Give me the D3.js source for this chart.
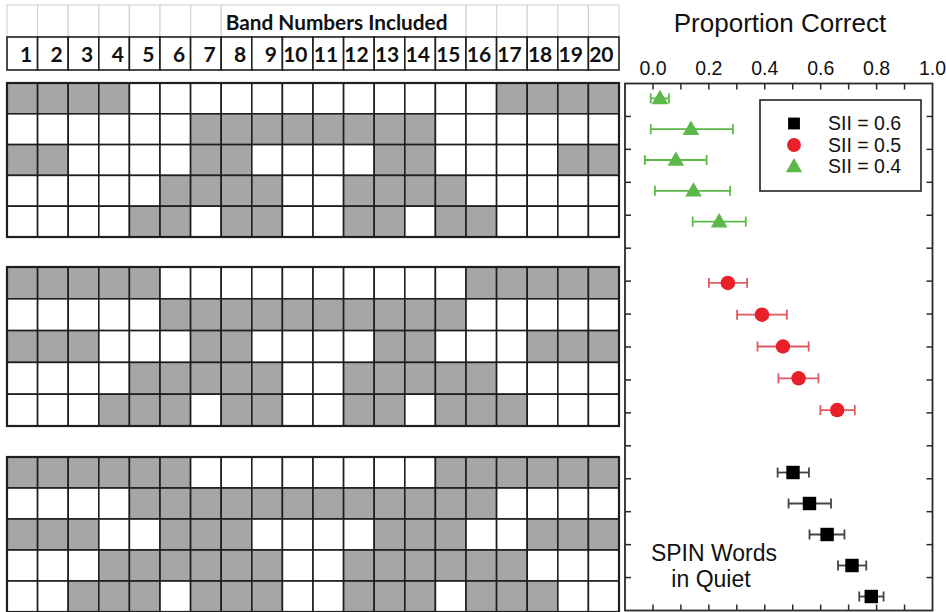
<!DOCTYPE html>
<html>
<head>
<meta charset="utf-8">
<script src="https://cdn.jsdelivr.net/npm/d3@7/dist/d3.min.js"></script>
<style>
  html, body { margin: 0; padding: 0; background: #fff; }
  svg { display: block; }
</style>
</head>
<body>
<svg id="chart" width="946" height="612"></svg>
<script>
// Band numbers shown across the header row
const bandLabels = ["1","2","3","4","5","6","7","8","9","10","11","12","13","14","15","16","17","18","19","20"];

// Bands included in each condition (one list per row), grouped by SII level
const bandsSII04 = [
  [1, 2, 3, 4, 17, 18, 19, 20],
  [7, 8, 9, 10, 11, 12, 13, 14],
  [1, 2, 7, 8, 13, 14, 19, 20],
  [6, 7, 8, 9, 12, 13, 14, 15],
  [5, 6, 8, 9, 12, 13, 15, 16]
];
const bandsSII05 = [
  [1, 2, 3, 4, 5, 16, 17, 18, 19, 20],
  [6, 7, 8, 9, 10, 11, 12, 13, 14, 15],
  [1, 2, 3, 7, 8, 13, 14, 18, 19, 20],
  [5, 6, 7, 8, 9, 12, 13, 14, 15, 16],
  [4, 5, 6, 8, 9, 12, 13, 15, 16, 17]
];
const bandsSII06 = [
  [1, 2, 3, 4, 5, 6, 15, 16, 17, 18, 19, 20],
  [5, 6, 7, 8, 9, 10, 11, 12, 13, 14, 15, 16],
  [1, 2, 3, 6, 7, 8, 13, 14, 15, 18, 19, 20],
  [4, 5, 6, 7, 8, 9, 12, 13, 14, 15, 16, 17],
  [3, 4, 5, 7, 8, 9, 12, 13, 14, 16, 17, 18]
];

// Proportion correct (mean, lower and upper error limits) per row
const meanSII04 = [0.025, 0.136, 0.082, 0.145, 0.237];
const lowSII04  = [-0.008, -0.008, -0.029, 0.007, 0.142];
const highSII04 = [0.057, 0.286, 0.192, 0.276, 0.332];

const meanSII05 = [0.268, 0.390, 0.465, 0.521, 0.659];
const lowSII05  = [0.200, 0.301, 0.374, 0.449, 0.599];
const highSII05 = [0.337, 0.479, 0.557, 0.592, 0.722];

const meanSII06 = [0.501, 0.560, 0.623, 0.712, 0.781];
const lowSII06  = [0.446, 0.485, 0.560, 0.662, 0.738];
const highSII06 = [0.558, 0.637, 0.685, 0.763, 0.825];

// Axis ticks
const xTickLabels = [0.0, 0.2, 0.4, 0.6, 0.8, 1.0];
const xMinorTicks = [0.0, 0.1, 0.2, 0.3, 0.4, 0.5, 0.6, 0.7, 0.8, 0.9];
const yTicks = [1, 2, 3, 4, 5, 6, 7, 8, 9, 10, 11, 12, 13, 14, 15];

const legendLabels = ["SII = 0.6", "SII = 0.5", "SII = 0.4"];

// ---- layout -------------------------------------------------------------
const svg = d3.select("#chart");
const gridLeft = 7, gridRight = 619;
const groupTops = [83, 267, 457];
const groupRowH = [30.8, 31.8, 31.0];

const GRAY = "#a6a6a6";
const LINE = "#1e1e1e";
const SANS = "'Liberation Sans', Arial, Helvetica, sans-serif";
const colors = { sq: "#000000", ci: "#e8202a", tr: "#5cb848" };
const errColors = { sq: "#444444", ci: "#e05a5f", tr: "#5cb848" };

const xBand = d3.scaleBand().domain(bandLabels).range([gridLeft, gridRight]).paddingInner(0).paddingOuter(0);

// ---- header ------------------------------------------------------------
const hdr = svg.append("g");
// top row: light cells 1-7, merged 8-15 title cell, cells 16-20
const topCells = [];
bandLabels.forEach((b, i) => { if (i < 7 || i >= 15) topCells.push({ x0: xBand(b), x1: xBand(b) + xBand.bandwidth() }); });
topCells.push({ x0: xBand("8"), x1: xBand("15") + xBand.bandwidth() });
hdr.selectAll("rect.top").data(topCells).join("rect")
  .attr("x", d => d.x0).attr("y", 5)
  .attr("width", d => d.x1 - d.x0).attr("height", 32)
  .attr("fill", "#fff").attr("stroke", "#d4d4d4").attr("stroke-width", 1.2);

hdr.append("text")
  .attr("x", (xBand("8") + xBand("15") + xBand.bandwidth()) / 2 - 7)
  .attr("y", 30)
  .attr("text-anchor", "middle")
  .attr("font-family", "Lato, 'Open Sans', sans-serif")
  .attr("font-weight", "bold")
  .attr("font-size", 20.8)
  .attr("fill", "#111")
  .text("Band Numbers Included");

// number row
hdr.selectAll("rect.num").data(bandLabels).join("rect")
  .attr("x", d => xBand(d)).attr("y", 37)
  .attr("width", xBand.bandwidth()).attr("height", 33)
  .attr("fill", "#fff").attr("stroke", LINE).attr("stroke-width", 1.6);
hdr.selectAll("text.num").data(bandLabels).join("text")
  .attr("x", d => xBand(d) + xBand.bandwidth() - 5.5)
  .attr("y", 62)
  .attr("text-anchor", "end")
  .attr("font-family", "Lato, 'Open Sans', sans-serif")
  .attr("font-weight", "bold")
  .attr("font-size", 21)
  .attr("fill", "#111")
  .text(d => d);

// ---- band grids -------------------------------------------------------
const groupBands = [bandsSII04, bandsSII05, bandsSII06];
const rowCenters = [];
groupBands.forEach((rows, gi) => {
  const top = groupTops[gi], h = groupRowH[gi];
  const yRow = d3.scaleBand().domain(d3.range(rows.length)).range([top, top + h * rows.length]);
  const g = svg.append("g");
  const cells = [];
  rows.forEach((bands, ri) => {
    bandLabels.forEach(b => cells.push({ row: ri, band: b, on: bands.includes(+b) }));
  });
  g.selectAll("rect").data(cells).join("rect")
    .attr("x", d => xBand(d.band)).attr("y", d => yRow(d.row))
    .attr("width", xBand.bandwidth()).attr("height", yRow.bandwidth())
    .attr("fill", d => d.on ? GRAY : "#fff")
    .attr("stroke", LINE).attr("stroke-width", 1.6);
  g.append("rect")
    .attr("x", gridLeft).attr("y", top)
    .attr("width", gridRight - gridLeft).attr("height", h * rows.length)
    .attr("fill", "none").attr("stroke", LINE).attr("stroke-width", 2.2);
  rowCenters.push(rows.map((_, ri) => yRow(ri) + yRow.bandwidth() / 2));
});

// ---- proportion-correct panel ------------------------------------------
const pL = 625, pR = 932.5, pT = 83.5, pB = 610.5;
const x = d3.scaleLinear().domain([-0.1, 1.0]).range([pL, pR]);
const yT = d3.scaleLinear().domain([0, 16]).range([pT, pB]);
const panel = svg.append("g");

panel.append("rect")
  .attr("x", pL).attr("y", pT).attr("width", pR - pL).attr("height", pB - pT)
  .attr("fill", "#fff").attr("stroke", "#2a2a2a").attr("stroke-width", 1.8);

// inward ticks on all four sides
const tickLen = 6;
panel.append("g").selectAll("line").data(xMinorTicks).join("line")
  .attr("x1", d => x(d)).attr("x2", d => x(d)).attr("y1", pT).attr("y2", pT + tickLen)
  .attr("stroke", "#2a2a2a").attr("stroke-width", 1.5);
panel.append("g").selectAll("line").data(xMinorTicks).join("line")
  .attr("x1", d => x(d)).attr("x2", d => x(d)).attr("y1", pB).attr("y2", pB - tickLen)
  .attr("stroke", "#2a2a2a").attr("stroke-width", 1.5);
panel.append("g").selectAll("line").data(yTicks).join("line")
  .attr("x1", pL).attr("x2", pL + tickLen).attr("y1", d => yT(d)).attr("y2", d => yT(d))
  .attr("stroke", "#2a2a2a").attr("stroke-width", 1.5);
panel.append("g").selectAll("line").data(yTicks).join("line")
  .attr("x1", pR).attr("x2", pR - tickLen).attr("y1", d => yT(d)).attr("y2", d => yT(d))
  .attr("stroke", "#2a2a2a").attr("stroke-width", 1.5);

// top tick labels
panel.append("g").selectAll("text").data(xTickLabels).join("text")
  .attr("x", d => x(d)).attr("y", 75)
  .attr("text-anchor", "middle")
  .attr("font-family", SANS)
  .attr("font-size", 19.5)
  .attr("fill", "#111")
  .text(d => d3.format(".1f")(d));

svg.append("text")
  .attr("x", 780).attr("y", 32)
  .attr("text-anchor", "middle")
  .attr("font-family", SANS)
  .attr("font-size", 26)
  .attr("fill", "#111")
  .text("Proportion Correct");

// error bars and markers
const series = [
  { key: "tr", mean: meanSII04, lo: lowSII04, hi: highSII04, ys: rowCenters[0] },
  { key: "ci", mean: meanSII05, lo: lowSII05, hi: highSII05, ys: rowCenters[1] },
  { key: "sq", mean: meanSII06, lo: lowSII06, hi: highSII06, ys: rowCenters[2] }
];
const capH = 5;
series.forEach(s => {
  const pts = s.mean.map((m, i) => ({ m, lo: s.lo[i], hi: s.hi[i], y: s.ys[i] }));
  const g = panel.append("g");
  const ec = errColors[s.key];
  g.selectAll("line.bar").data(pts).join("line")
    .attr("x1", d => x(d.lo)).attr("x2", d => x(d.hi)).attr("y1", d => d.y).attr("y2", d => d.y)
    .attr("stroke", ec).attr("stroke-width", 1.8);
  g.selectAll("line.capL").data(pts).join("line")
    .attr("x1", d => x(d.lo)).attr("x2", d => x(d.lo)).attr("y1", d => d.y - capH).attr("y2", d => d.y + capH)
    .attr("stroke", ec).attr("stroke-width", 1.8);
  g.selectAll("line.capR").data(pts).join("line")
    .attr("x1", d => x(d.hi)).attr("x2", d => x(d.hi)).attr("y1", d => d.y - capH).attr("y2", d => d.y + capH)
    .attr("stroke", ec).attr("stroke-width", 1.8);
  const sym = s.key === "sq" ? d3.symbolSquare : s.key === "ci" ? d3.symbolCircle : d3.symbolTriangle;
  const size = s.key === "sq" ? 180 : s.key === "ci" ? 165 : 120;
  g.selectAll("path").data(pts).join("path")
    .attr("transform", d => `translate(${x(d.m)},${d.y + (s.key === "tr" ? 1 : 0)})`)
    .attr("d", d3.symbol().type(sym).size(size))
    .attr("fill", colors[s.key]);
});

// legend
const leg = panel.append("g");
leg.append("rect")
  .attr("x", 760).attr("y", 100).attr("width", 161).attr("height", 91)
  .attr("fill", "#fff").attr("stroke", "#222").attr("stroke-width", 1.6);
const legKeys = ["sq", "ci", "tr"];
const legY = d3.scalePoint().domain(legendLabels).range([123.5, 166.5]);
legendLabels.forEach((lab, i) => {
  const k = legKeys[i];
  const sym = k === "sq" ? d3.symbolSquare : k === "ci" ? d3.symbolCircle : d3.symbolTriangle;
  const size = k === "sq" ? 140 : k === "ci" ? 150 : 115;
  leg.append("path")
    .attr("transform", `translate(794,${legY(lab) + (k === "tr" ? 1 : 0)})`)
    .attr("d", d3.symbol().type(sym).size(size))
    .attr("fill", colors[k]);
  leg.append("text")
    .attr("x", 828).attr("y", legY(lab) + 6.5)
    .attr("font-family", SANS)
    .attr("font-size", 19.5)
    .attr("fill", "#111")
    .text(lab);
});

// annotation
const note = panel.append("text")
  .attr("font-family", SANS)
  .attr("font-size", 23)
  .attr("fill", "#111")
  .attr("text-anchor", "middle");
note.append("tspan").attr("x", 714).attr("y", 561).text("SPIN Words");
note.append("tspan").attr("x", 711).attr("y", 587).text("in Quiet");
</script>
</body>
</html>
